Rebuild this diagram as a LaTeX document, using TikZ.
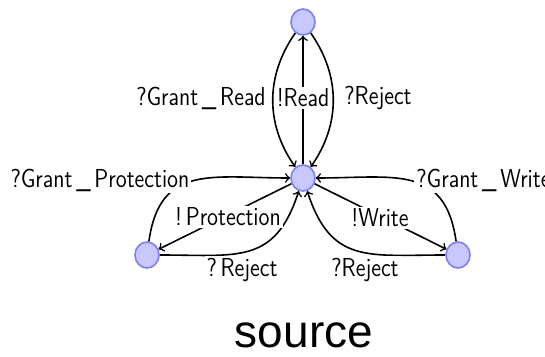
\documentclass[tikz,border=0pt]{standalone}
\usepackage{fontspec}
\newfontfamily\captionfont{Liberation Sans}
\usetikzlibrary{shapes.geometric}
\definecolor{statefill}{RGB}{200,200,255}
\definecolor{stateline}{RGB}{125,125,245}
\newcommand{\tlabel}[1]{\scalebox{0.86}[1]{#1}}
\tikzset{
  state/.style={ellipse, draw=stateline, fill=statefill, line width=0.8pt,
                minimum width=12pt, minimum height=13pt, inner sep=0pt},
  edge/.style={->, line width=0.8pt, black},
  lbl/.style={font=\sffamily\fontsize{13}{15}\selectfont, fill=white, inner sep=1pt}
}
\begin{document}
\begin{tikzpicture}[x=0.5pt, y=-0.5pt]
  \useasboundingbox (0,0) rectangle (545,357);

  % states
  \node[state] (t) at (303,22) {};
  \node[state] (c) at (303,178) {};
  \node[state] (l) at (147,255) {};
  \node[state] (r) at (458,255) {};

  % transitions between the centre and the top state
  \draw[edge] (t) to[out=235, in=125] (c);
  \draw[edge] (t) to[out=-55, in=55] (c);
  \draw[edge] (c) -- (t);

  % transitions with the left state
  \draw[edge] (l) to[out=82, in=180, looseness=1.3] (c);
  \draw[edge] (c) -- (l);
  \draw[edge] (l) to[out=0, in=-108, looseness=1.3] (c);

  % transitions with the right state
  \draw[edge] (r) to[out=98, in=0, looseness=1.3] (c);
  \draw[edge] (c) -- (r);
  \draw[edge] (r) to[out=180, in=-72, looseness=1.3] (c);

  % transition labels
  \node[lbl] (gr) at (201,98) {\tlabel{?Grant\,\_\,Read}};
  \node[lbl] (rd) at (303,98) {\tlabel{!Read}};
  \node[lbl] (rj1) at (378,98) {\tlabel{?Reject}};
  \node[lbl] (gp) at (100,180) {\tlabel{?Grant\,\_\,Protection}};
  \node[lbl] (pr) at (228,217) {\tlabel{!\,Protection}};
  \node[lbl] (rj2) at (242,270) {\tlabel{?\,Reject}};
  \node[lbl, anchor=west] (gw) at (414,180) {\tlabel{?Grant\,\_\,Write}};
  \node[lbl] (wr) at (380,218) {\tlabel{!Write}};
  \node[lbl] (rj3) at (365,270) {\tlabel{?Reject}};

  % caption
  \node[font=\captionfont\fontsize{23}{26}\selectfont, anchor=base] (cap) at (304,347) {source};
\end{tikzpicture}
\end{document}
